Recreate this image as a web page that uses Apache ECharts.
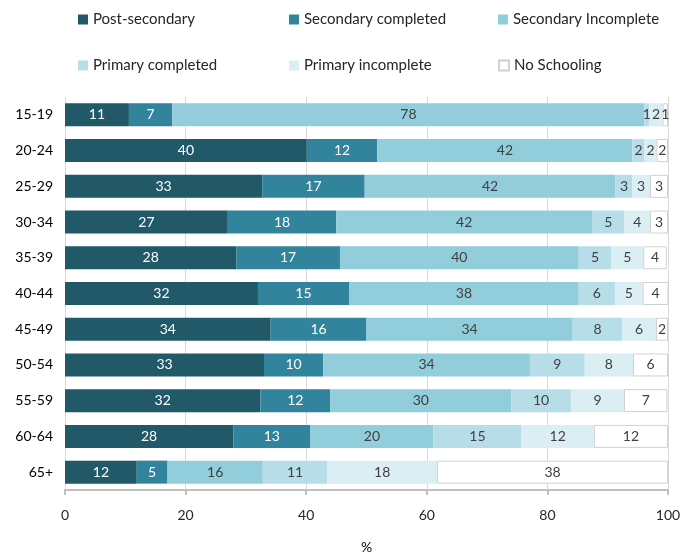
<!DOCTYPE html>
<html>
<head>
<meta charset="utf-8">
<script src="https://cdn.jsdelivr.net/npm/echarts@6/dist/echarts.min.js"></script>
<style>html,body{margin:0;padding:0;background:#fff;}#chart{width:682px;height:556px;}</style>
</head>
<body>
<div id="chart"></div>
<script>
var categories = ['15-19','20-24','25-29','30-34','35-39','40-44','45-49','50-54','55-59','60-64','65+'];
var seriesNames = ['Post-secondary','Secondary completed','Secondary Incomplete','Primary completed','Primary incomplete','No Schooling'];
var postSecondary       = [10.6, 40.1, 32.7, 27.0, 28.4, 32.0, 34.1, 33.0, 32.4, 27.9, 11.9];
var secondaryCompleted  = [7.2, 11.7, 17.0, 18.0, 17.2, 15.1, 15.9, 9.8, 11.6, 12.8, 5.1];
var secondaryIncomplete = [78.3, 42.3, 41.6, 42.4, 39.6, 38.1, 34.2, 34.3, 30.0, 20.4, 15.8];
var primaryCompleted    = [0.8, 2.0, 2.8, 5.4, 5.4, 6.0, 8.2, 9.1, 9.9, 14.6, 10.7];
var primaryIncomplete   = [2.2, 2.0, 2.9, 4.2, 5.3, 4.6, 5.6, 8.0, 8.8, 12.0, 18.2];
var noSchooling         = [0.9, 1.9, 3.0, 3.0, 3.9, 4.3, 2.0, 5.8, 7.2, 12.3, 38.3];
var xTicks = [0, 20, 40, 60, 80, 100];

var values = [postSecondary, secondaryCompleted, secondaryIncomplete, primaryCompleted, primaryIncomplete, noSchooling];
var colors = ['#215968', '#31849b', '#92cddc', '#b7dee8', '#daeef3', '#ffffff'];
var labelColors = ['#ffffff', '#ffffff', '#404040', '#404040', '#404040', '#404040'];
var FONT = 'Lato, "Open Sans", sans-serif';

var legendPos = [[73,7],[284,7],[493,7],[73,53],[284,53],[493,53]];
var legends = seriesNames.map(function (n, i) {
  return {
    data: [n], left: legendPos[i][0], top: legendPos[i][1],
    icon: 'rect', itemWidth: 10, itemHeight: 10, itemGap: 0,
    textStyle: { fontFamily: FONT, fontSize: 15, color: '#262626' }
  };
});

var series = seriesNames.map(function (n, i) {
  return {
    name: n, type: 'bar', stack: 'total', barWidth: 23,
    data: values[i],
    itemStyle: i === 5 ? { color: colors[i], borderColor: '#d0d0d0', borderWidth: 1 } : { color: colors[i] },
    label: {
      show: true, position: 'inside',
      fontFamily: FONT, fontSize: 14, color: labelColors[i],
      formatter: function (p) { return Math.round(p.value); }
    },
    emphasis: { disabled: true }
  };
});

var chart = echarts.init(document.getElementById('chart'));
chart.setOption({
  animation: false,
  backgroundColor: '#ffffff',
  legend: legends,
  grid: { left: 65, right: 14, top: 97, bottom: 66, containLabel: false, outerBoundsMode: 'none' },
  xAxis: {
    type: 'value', min: 0, max: 100, interval: 20,
    name: '%', nameLocation: 'middle', nameGap: 50,
    nameTextStyle: { fontFamily: FONT, fontSize: 14, color: '#000' },
    axisLine: { show: true, lineStyle: { color: '#bfbfbf', width: 2 } },
    axisTick: { show: true, length: 5, lineStyle: { color: '#bfbfbf', width: 2 } },
    axisLabel: { fontFamily: FONT, fontSize: 14, color: '#262626', margin: 18,
      formatter: function (v) { return xTicks.indexOf(v) >= 0 ? String(v) : ''; } },
    splitLine: { show: true, lineStyle: { color: '#d9d9d9', width: 1 } }
  },
  yAxis: {
    type: 'category', data: categories, inverse: true,
    axisLine: { show: false }, axisTick: { show: false },
    axisLabel: { fontFamily: FONT, fontSize: 14, color: '#000', margin: 12 }
  },
  series: series
});
</script>
</body>
</html>
